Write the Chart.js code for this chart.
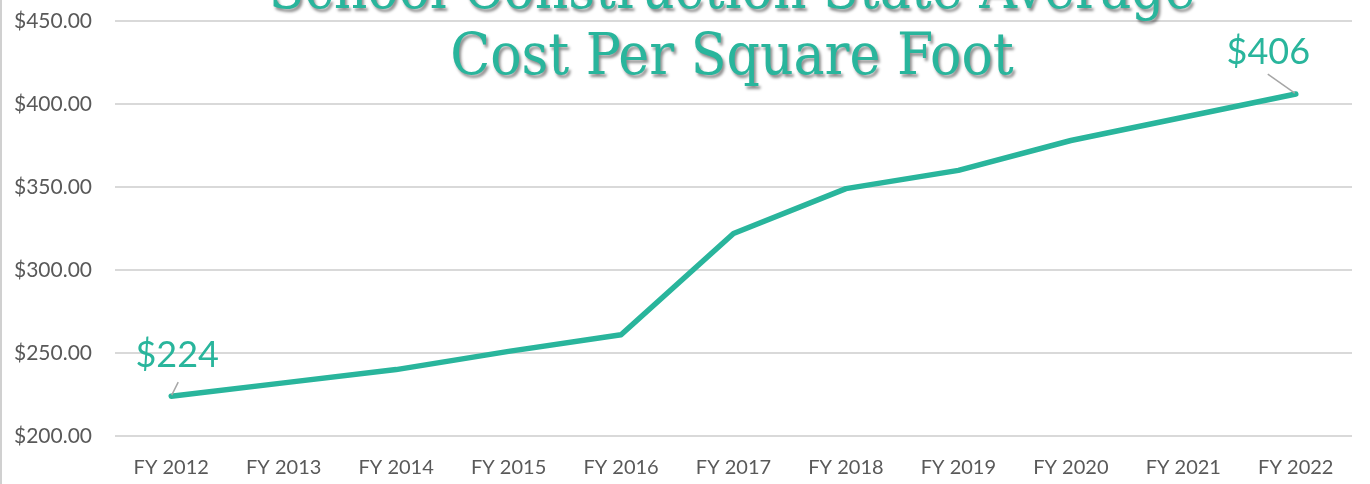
<!DOCTYPE html>
<html><head><meta charset="utf-8">
<script src="https://cdn.jsdelivr.net/npm/chart.js@4.4.1/dist/chart.umd.min.js"></script>
<style>
html,body{margin:0;padding:0;background:#fff;overflow:hidden}
#wrap{position:relative;width:1370px;height:484px}
canvas{display:block}
</style></head>
<body><div id="wrap"><canvas id="c" width="1370" height="484"></canvas></div>
<script>
// ---- data ----
const categories = ['FY 2012','FY 2013','FY 2014','FY 2015','FY 2016','FY 2017','FY 2018','FY 2019','FY 2020','FY 2021','FY 2022'];
const costPerSqFt = [224, 232, 240, 251, 261, 322, 349, 360, 378, 392, 406];
const yMin = 200, yMax = 450, yStep = 50;
const titleLines = ['School Construction State Average', 'Cost Per Square Foot'];
const labeledIndices = [0, 10];

const TEAL = '#29B59C';

const framePlugin = {
  id: 'frame',
  beforeDraw(chart) {
    const ctx = chart.ctx;
    ctx.save();
    ctx.strokeStyle = '#D0D0D0';
    ctx.lineWidth = 2;
    ctx.beginPath();
    ctx.moveTo(1, 0); ctx.lineTo(1, chart.height);
    ctx.stroke();
    ctx.restore();
  }
};

const labelPlugin = {
  id: 'endLabels',
  afterDatasetsDraw(chart) {
    const ctx = chart.ctx;
    const meta = chart.getDatasetMeta(0);
    ctx.save();
    labeledIndices.forEach((i, k) => {
      const p = meta.data[i];
      const first = k === 0;
      ctx.strokeStyle = '#A6A6A6';
      ctx.lineWidth = 1.5;
      ctx.beginPath();
      if (first) { ctx.moveTo(p.x + 7, p.y - 14); ctx.lineTo(p.x + 0.5, p.y - 1); }
      else { ctx.moveTo(p.x - 28, p.y - 20); ctx.lineTo(p.x - 1, p.y - 1); }
      ctx.stroke();
      ctx.fillStyle = TEAL;
      ctx.font = '36px Lato';
      ctx.textAlign = 'center';
      ctx.textBaseline = 'alphabetic';
      const txt = '$' + costPerSqFt[i];
      if (first) ctx.fillText(txt, p.x + 6, p.y - 29);
      else ctx.fillText(txt, p.x - 27.5, p.y - 30.5);
    });
    ctx.restore();
  }
};

const titlePlugin = {
  id: 'shadowTitle',
  afterDraw(chart) {
    const ctx = chart.ctx;
    ctx.save();
    ctx.font = '58px "DejaVu Serif Condensed", "DejaVu Serif"';
    ctx.textAlign = 'center';
    ctx.textBaseline = 'alphabetic';
    ctx.fillStyle = TEAL;
    ctx.shadowColor = 'rgba(0,0,0,0.45)';
    ctx.shadowOffsetX = 2;
    ctx.shadowOffsetY = 3;
    ctx.shadowBlur = 3;
    const cx = 732;
    ctx.fillText(titleLines[0], cx, 8);
    ctx.fillText(titleLines[1], cx, 74);
    ctx.restore();
  }
};

function draw() {
  new Chart(document.getElementById('c'), {
    type: 'line',
    data: {
      labels: categories,
      datasets: [{
        data: costPerSqFt,
        borderColor: TEAL,
        borderWidth: 5.5,
        borderCapStyle: 'round',
        borderJoinStyle: 'round',
        pointRadius: 0,
        tension: 0,
        fill: false
      }]
    },
    options: {
      responsive: false,
      animation: false,
      devicePixelRatio: 1,
      layout: { padding: { left: 0, right: 18, top: 21, bottom: 0 } },
      plugins: { legend: { display: false }, title: { display: false }, tooltip: { enabled: false } },
      scales: {
        x: {
          offset: true,
          grid: { display: false, drawTicks: false },
          border: { display: false },
          ticks: { padding: 20, color: '#595959', font: { family: 'Lato', size: 20 }, maxRotation: 0, autoSkip: false },
          afterFit(s) { s.height = 48; }
        },
        y: {
          min: yMin, max: yMax,
          grid: { color: '#D9D9D9', lineWidth: 2, drawTicks: true, tickLength: 23, tickColor: 'rgba(0,0,0,0)' },
          border: { display: false },
          ticks: {
            stepSize: yStep, padding: 0, color: '#595959',
            font: { family: 'Lato', size: 21 },
            callback: v => '$' + Number(v).toFixed(2)
          },
          afterFit(s) { s.width = 115; }
        }
      }
    },
    plugins: [framePlugin, labelPlugin, titlePlugin]
  });
}
Promise.all([
  document.fonts.load('20px Lato'),
  document.fonts.load('36px Lato'),
  document.fonts.load('58px "DejaVu Serif Condensed"')
]).then(draw, draw);
</script>
</body></html>
